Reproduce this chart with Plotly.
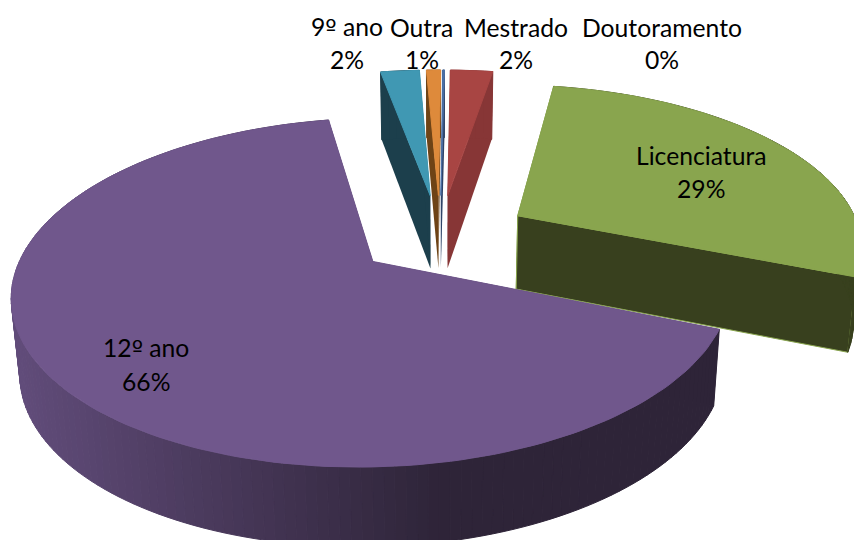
"""Exploded 3D-look pie of education levels, drawn from filled Plotly scatter polygons."""
import math
import plotly.graph_objects as go

CATEGORIES = ["12º ano", "9º ano", "Outra", "Doutoramento", "Mestrado", "Licenciatura"]
VALUES = [66.0, 2.2, 0.8, 0.1, 2.4, 28.51]
TOP_COLORS = ["#70578C", "#4098B3", "#DE8A3B", "#4A6FA5", "#A84543", "#89A54E"]
WALL_COLORS = ["#2E2438", "#1C3F4C", "#6E4316", "#2F4468", "#873636", "#38401E"]
EXPLODE = [0.245, 0.265, 0.265, 0.265, 0.265, 0.265]

# clockwise from twelve o'clock, where the first slice begins
START_ANGLE = 112

# projection of the pie plane onto the page (pixels)
CX, CY = 440, 236
SCALE_X, SCALE_Y = 344, 160
TILT = 0.1735
DEPTH = 74
INSET = 0.02

fig = go.Figure()


def project(x, y, low=False):
    w = 1 - TILT * y
    px = g = SCALE_X * x / w
    py = SCALE_Y * y / w
    if low:
        px = g * (1 - INSET)
        py += DEPTH + 5 * y
    return CX + px, CY + py


def add_poly(points, color, line=None):
    xs = [p[0] for p in points] + [points[0][0]]
    ys = [p[1] for p in points] + [points[0][1]]
    fig.add_trace(go.Scatter(
        x=xs, y=ys, mode="lines", fill="toself", fillcolor=color,
        line=dict(color=line or color, width=1 if line else 0),
        hoverinfo="skip", showlegend=False,
    ))


def mix(c1, c2, t):
    a = [int(c1[i:i + 2], 16) for i in (1, 3, 5)]
    b = [int(c2[i:i + 2], 16) for i in (1, 3, 5)]
    return "rgb(%d,%d,%d)" % tuple(a[i] + (b[i] - a[i]) * t for i in range(3))


def slice_geometry(a0, a1, explode):
    mid = math.radians((a0 + a1) / 2)
    ox, oy = explode * math.sin(mid), -explode * math.cos(mid)
    n = max(2, int((a1 - a0) / 1.5))
    rim = []
    for i in range(n + 1):
        t = math.radians(a0 + (a1 - a0) * i / n)
        rim.append((ox + math.sin(t), oy - math.cos(t)))
    return (ox, oy), rim


def draw_slice(idx, a0, a1):
    apex, rim = slice_geometry(a0, a1, EXPLODE[idx])
    wall = WALL_COLORS[idx]
    top = TOP_COLORS[idx]
    line = top if CATEGORIES[idx] == "Licenciatura" else None
    # two radial walls
    for end in (rim[0], rim[-1]):
        add_poly([project(*apex), project(*end), project(*end, low=True), project(*apex, low=True)], wall, line)
    # outer wall: 12º ano fades from mid purple on the left to dark on the right
    for p, q in zip(rim, rim[1:]):
        quad = [project(*p), project(*q), project(*q, low=True), project(*p, low=True)]
        if CATEGORIES[idx] == "12º ano":
            t = min(1, max(0, (quad[0][0] - 20) / 430))
            c = mix("#614C7A", wall, t)
            add_poly(quad, c, c)
        else:
            add_poly(quad, wall, wall)
    add_poly([project(*apex)] + [project(*p) for p in rim], top, top)


# slices in page order, far ones first
spans = []
angle = START_ANGLE
for i, v in enumerate(VALUES):
    spans.append((i, angle, angle + v * 3.6))
    angle += v * 3.6
for i, a0, a1 in [spans[5], spans[1], spans[2], spans[3], spans[4], spans[0]]:
    draw_slice(i, a0, a1)

ORDINAL = "<span style=\"font-family:'DejaVu Sans';font-size:24px\">º</span>"

# data labels: (category index, centre x of name, centre x of value, y of name line, y of value line)
LABEL_SPOTS = [(0, 146, 146, 348, 381), (1, 347, 347, 27, 59), (2, 421, 422, 27, 59),
               (3, 662, 662, 27, 59), (4, 516, 516, 27, 59), (5, 701, 701, 155, 188)]
for i, x1, x2, y1, y2 in LABEL_SPOTS:
    name = CATEGORIES[i].replace("º", ORDINAL)
    for x, y, txt in ((x1, y1, name), (x2, y2, f"{round(VALUES[i])}%")):
        fig.add_annotation(x=x, y=y, text=txt, showarrow=False, xref="x", yref="y",
                           font=dict(family="Lato", size=24.7, color="#000000"))

fig.update_layout(
    width=854, height=540,
    margin=dict(l=0, r=0, t=0, b=0),
    paper_bgcolor="white", plot_bgcolor="white",
    xaxis=dict(range=[0, 854], visible=False),
    yaxis=dict(range=[540, 0], visible=False),
    showlegend=False,
)
fig.write_html("out.html", config={"displayModeBar": False},
               post_script="document.body.style.margin='0';")
